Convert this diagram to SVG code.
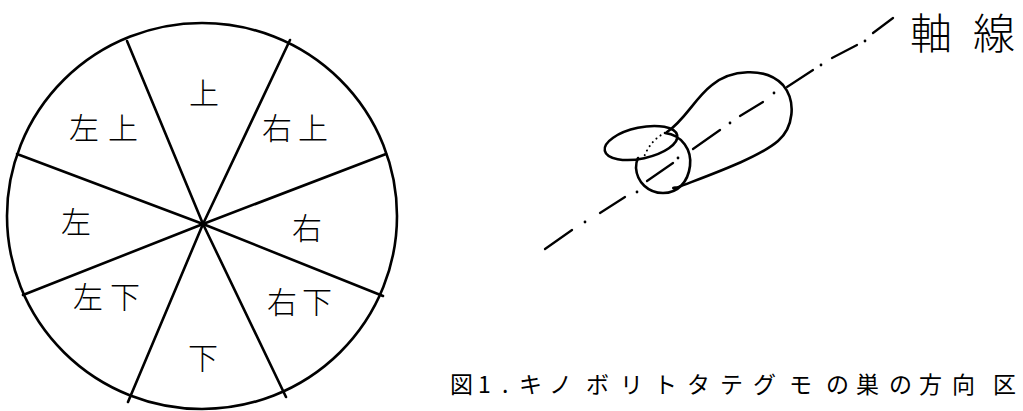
<svg xmlns="http://www.w3.org/2000/svg" width="1023" height="411" viewBox="0 0 1023 411">
  <style>
    .ink { fill: none; stroke: #000; stroke-width: 2.6; stroke-linecap: round; stroke-linejoin: round; }
    .thin { fill: none; stroke: #000; stroke-width: 2.2; stroke-linecap: round; }
    .dots { fill: none; stroke: #000; stroke-width: 2; stroke-linecap: round; stroke-dasharray: 0.1 5; }
    .hand { font-family: "Noto Sans CJK JP", "Noto Sans", sans-serif; font-weight: 300; fill: #000; text-anchor: middle; }
    .sector { font-size: 30px; }
    .axis-label { font-size: 42px; }
    .caption { font-family: "Noto Sans CJK JP", "Liberation Serif", serif; font-size: 23px; fill: #000; }
  </style>

  <!-- direction wheel: outline and eight spokes -->
  <g id="wheel">
    <ellipse class="ink" cx="202" cy="216" rx="195" ry="193"/>
    <g id="spokes">
      <line class="ink" x1="203" y1="224" x2="127" y2="41"/>
      <line class="ink" x1="203" y1="224" x2="290" y2="40"/>
      <line class="ink" x1="203" y1="224" x2="386" y2="154"/>
      <line class="ink" x1="203" y1="224" x2="383" y2="296"/>
      <line class="ink" x1="203" y1="224" x2="286" y2="397"/>
      <line class="ink" x1="203" y1="224" x2="128" y2="402"/>
      <line class="ink" x1="203" y1="224" x2="23" y2="295"/>
      <line class="ink" x1="203" y1="224" x2="17" y2="154"/>
    </g>
  </g>

  <!-- sector labels -->
  <g id="sector-up"><text class="hand sector" x="204" y="104">上</text></g>
  <g id="sector-upper-right"><text class="hand sector" x="277 313" y="139">右上</text></g>
  <g id="sector-right"><text class="hand sector" x="307" y="239">右</text></g>
  <g id="sector-lower-right"><text class="hand sector" x="282 317" y="313">右下</text></g>
  <g id="sector-down"><text class="hand sector" x="203" y="369">下</text></g>
  <g id="sector-lower-left"><text class="hand sector" x="88 125" y="308">左下</text></g>
  <g id="sector-left"><text class="hand sector" x="76" y="233">左</text></g>
  <g id="sector-upper-left"><text class="hand sector" x="84 123" y="139">左上</text></g>

  <!-- axis line (dash-dot) -->
  <g id="axis">
    <path class="thin" d="M545,249 L572,230 M600,213 L625,197 M647,181 L673,163 M693,149 L720,130 M740,116 L763,102 M787,87 L813,70 M832,58 L857,45 M873,33 L893,18"/>
    <g fill="#000">
      <circle cx="585" cy="222" r="1.4"/>
      <circle cx="637" cy="192" r="1.4"/>
      <circle cx="678" cy="158" r="1.4"/>
      <circle cx="730" cy="123" r="1.4"/>
      <circle cx="774" cy="93" r="1.4"/>
      <circle cx="821" cy="65" r="1.4"/>
      <circle cx="865" cy="41" r="1.4"/>
    </g>
  </g>

  <!-- nest tube with its lid -->
  <g id="nest">
    <path class="ink" d="M667,132 C685,120 695,98 712,85 C730,70 765,66 783,85 C797,102 793,128 778,141 C758,158 712,174 676,188"/>
    <path class="ink" d="M665,133 C682,135 692,150 690,166 C688,182 678,193 663,193 C648,193 637,182 636,168 C636,164 637,160 638,158"/>
    <path class="dots" d="M665,133 C656,137 648,146 644,157"/>
    <ellipse class="ink" cx="641" cy="143" rx="37" ry="15.5" transform="rotate(-12 641 143)"/>
    <ellipse cx="675" cy="188" rx="3" ry="1.8" fill="#000"/>
  </g>

  <!-- axis label -->
  <g id="axis-label">
    <text class="hand axis-label" x="931" y="49">軸</text>
    <text class="hand axis-label" x="994" y="49">線</text>
  </g>

  <!-- caption -->
  <g id="caption">
    <text class="caption" x="450 478 502 519 549 586 620 654 687 720 753 789 826 856 889 919 952 993" y="393">図1.キノボリトタテグモの巣の方向区</text>
  </g>
</svg>
